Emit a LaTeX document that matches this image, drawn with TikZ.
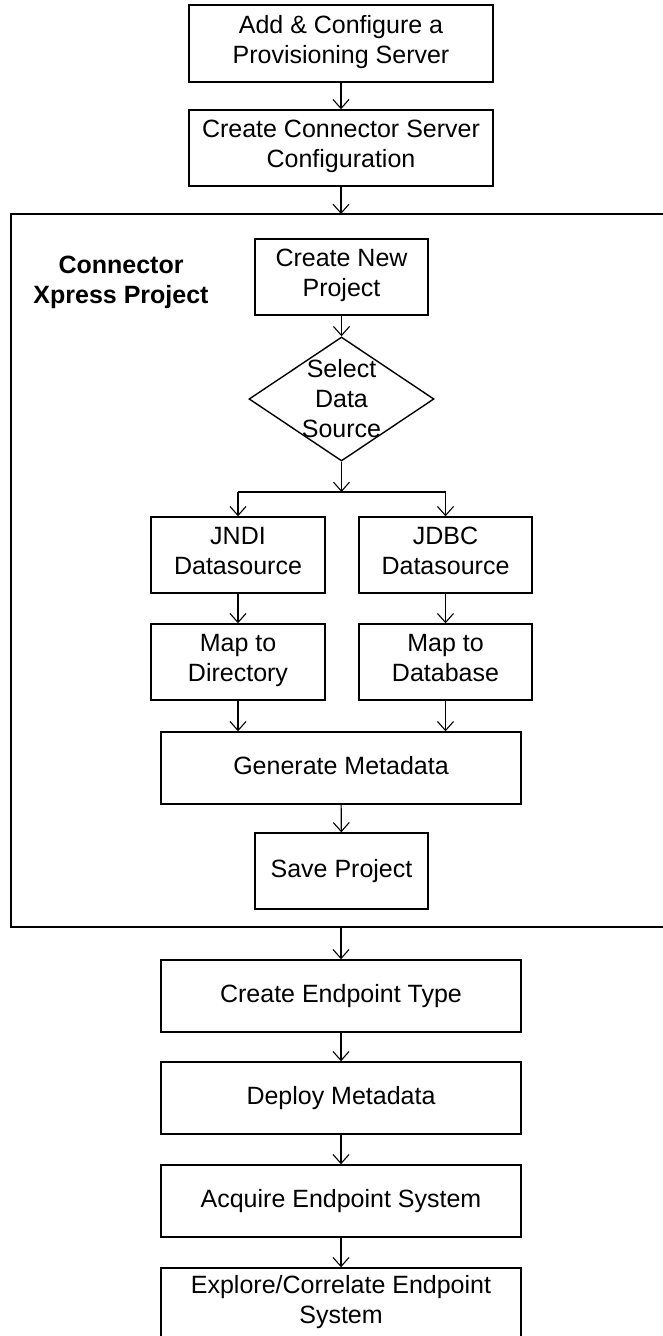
\documentclass[tikz,border=0pt]{standalone}
\usepackage{fontspec}
\setmainfont{Liberation Sans}
\usetikzlibrary{shapes.geometric,arrows.meta}

\begin{document}
\begin{tikzpicture}[x=1pt,y=-1pt,
    box/.style={shape=rectangle,draw=black,line width=1.4pt,align=center,inner sep=0pt,font=\fontsize{25}{30}\selectfont,
        execute at begin node=\strut,execute at end node=\strut},
    flow/.style={line width=1.1pt,-{Straight Barb[length=9pt,width=16pt]}}]
    \useasboundingbox (0,0) rectangle (663,1336);
    \draw[line width=2.6pt] (680,214) -- (11,214) -- (11,927) -- (680,927);
    \node[font=\fontsize{25}{30}\selectfont\bfseries,align=center] (0) at (121,282) {Connector\\Xpress Project};
    \node[box,minimum width=304pt,minimum height=77pt] (1) at (341,43.5) {Add \& Configure a\\Provisioning Server};
    \node[box,minimum width=304pt,minimum height=76pt] (2) at (341,148) {Create Connector Server\\Configuration};
    \node[box,minimum width=173pt,minimum height=76pt] (3) at (341.5,277) {Create New\\Project};
    \node[shape=diamond,draw=black,line width=1.4pt,minimum width=185pt,minimum height=124pt,inner sep=0pt,
        label={[align=center,font=\fontsize{25}{30}\selectfont]center:Select\\Data\\Source}] (4) at (341.5,399) {};
    \node[box,minimum width=174pt,minimum height=76pt] (5) at (238,555) {JNDI\\Datasource};
    \node[box,minimum width=173pt,minimum height=76pt] (6) at (445.5,555) {JDBC\\Datasource};
    \node[box,minimum width=174pt,minimum height=76pt] (7) at (238,662) {Map to\\Directory};
    \node[box,minimum width=173pt,minimum height=76pt] (8) at (445.5,662) {Map to\\Database};
    \node[box,minimum width=360pt,minimum height=72pt] (9) at (341,768) {Generate Metadata};
    \node[box,minimum width=173pt,minimum height=76pt] (10) at (341.5,871) {Save Project};
    \node[box,minimum width=360pt,minimum height=72pt] (11) at (341,996) {Create Endpoint Type};
    \node[box,minimum width=360pt,minimum height=72pt] (12) at (341,1098) {Deploy Metadata};
    \node[box,minimum width=360pt,minimum height=72pt] (13) at (341,1201) {Acquire Endpoint System};
    \node[box,minimum width=360pt,minimum height=72pt] (14) at (341,1304) {Explore/Correlate Endpoint\\System};
    \coordinate (f1) at (341,214);
    \coordinate (f2) at (341,927);
    \coordinate (b) at (341.5,492);
    \path[flow] (1) edge (2);
    \path[flow] (2) edge (f1);
    \path[flow] (3) edge (4);
    \path[flow] (4) edge (b);
    \draw[line width=1.1pt] (b -| 5) -- (b -| 6);
    \path[flow] (b -| 5) edge (5);
    \path[flow] (b -| 6) edge (6);
    \path[flow] (5) edge (7);
    \path[flow] (6) edge (8);
    \path[flow] (7) edge (7 |- 9.north);
    \path[flow] (8) edge (8 |- 9.north);
    \path[flow] (9) edge (10);
    \path[flow] (f2) edge (11);
    \path[flow] (11) edge (12);
    \path[flow] (12) edge (13);
    \path[flow] (13) edge (14);
\end{tikzpicture}
\end{document}
